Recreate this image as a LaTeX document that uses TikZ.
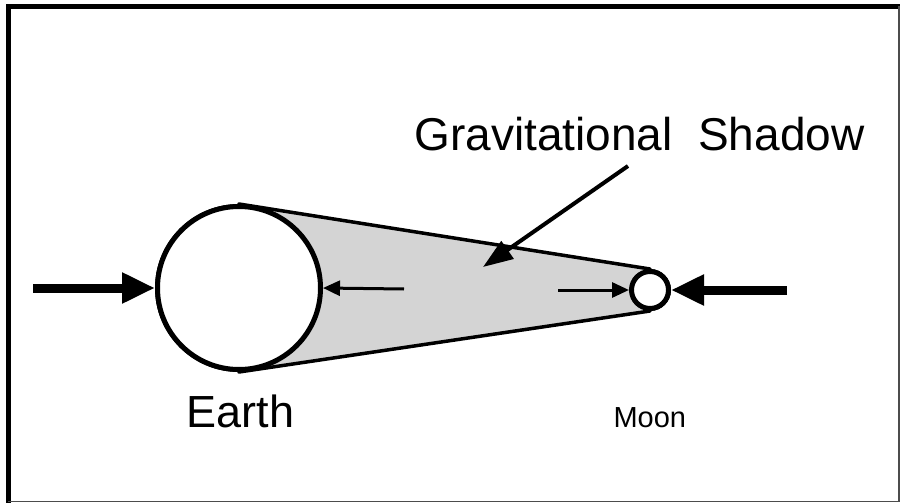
\documentclass[tikz,border=0pt]{standalone}
\usepackage{fontspec}
\setmainfont{Liberation Sans}
\usetikzlibrary{arrows.meta, positioning}

\begin{document}
\begin{tikzpicture}[x=1pt,y=-1pt,>=Triangle,
    body/.style={circle,draw,line width=5pt,fill=white,inner sep=0pt},
    bigpush/.style={->,line width=9pt,>={Triangle[length=33pt,width=29pt]}},
    smallpush/.style={->,line width=3pt,>={Triangle[length=17pt,width=15pt]}},
    pointer/.style={->,line width=4pt,>={Triangle[length=30pt,width=21pt]}}]
  \useasboundingbox (0,0) rectangle (900,503);
  % frame
  \draw[line width=5pt] (8,503) -- (8,6.5) -- (900,6.5);
  \draw[line width=1.5pt,black!70] (899,6.5) -- (899,501.5) -- (8,501.5);

  \node[body,minimum size=163pt] (earth) at (239,288) {};
  \node[body,minimum size=37pt] (moon) at (650,290) {};

  % shadow between the two bodies
  \draw[line width=3.5pt,line join=round,fill=black!17]
    (earth.north) -- (moon.north) -- (moon.south) -- (earth.south) -- cycle;
  \node[body,minimum size=163pt] at (earth) {};
  \node[body,minimum size=37pt] at (moon) {};

  \node[anchor=base west,font=\fontsize{46}{50}\selectfont] (title) at (411,150)
    {Gravitational\ \ Shadow};
  \node[anchor=base west,font=\fontsize{45}{50}\selectfont] (earthlbl) at (183,427) {Earth};
  \node[anchor=base west,font=\fontsize{29}{32}\selectfont] (moonlbl) at (610,427) {Moon};

  \coordinate (farleft) at (33,288);
  \coordinate (farright) at (787,290);
  \coordinate (innerleft) at (404,289);
  \coordinate (innerright) at (558,290);
  \coordinate (ptrstart) at (628,166);
  \coordinate (ptrend) at (483,267);

  \draw[bigpush] (farleft) -- (earth.west);
  \draw[bigpush] (farright) -- (moon.east);
  \draw[smallpush] (innerleft) -- (earth.east);
  \draw[smallpush] (innerright) -- (moon.west);
  \draw[pointer] (ptrstart) -- (ptrend);
\end{tikzpicture}
\end{document}
